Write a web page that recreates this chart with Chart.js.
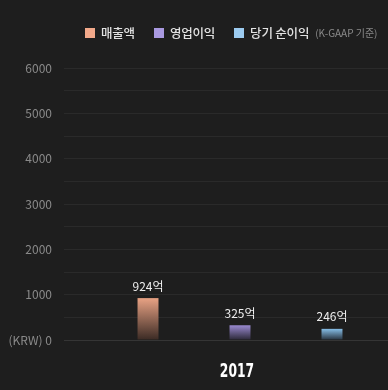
<!DOCTYPE html>
<html>
<head>
<meta charset="utf-8">
<script src="https://cdn.jsdelivr.net/npm/chart.js@4"></script>
<style>
  html, body { margin: 0; padding: 0; background: #1e1e1e; overflow: hidden; }
  #wrap { position: relative; width: 416px; height: 390px; }
  #legend {
    position: absolute; top: 23px; left: 85px; display: flex; align-items: center;
    font-family: "Noto Sans CJK KR", sans-serif; font-size: 12.5px; font-weight: 500;
    letter-spacing: -0.2px; color: #e2e2e2; white-space: nowrap;
  }
  #legend .item { display: flex; align-items: center; margin-right: 19px; }
  #legend .box { width: 10px; height: 10px; margin-right: 6px; }
  #legend .note { font-size: 10px; font-weight: 400; color: #8a8a8a; margin-left: -13px; letter-spacing: 0; }
</style>
</head>
<body>
<div id="wrap">
  <canvas id="chart" width="416" height="390"></canvas>
  <div id="legend"></div>
</div>
<script>
const years = ['2017'];
const seriesNames = ['매출액', '영업이익', '당기 순이익'];
const revenue = [924];
const operatingProfit = [325];
const netIncome = [246];
const yTickLabels = ['(KRW) 0', '1000', '2000', '3000', '4000', '5000', '6000'];
const legendNote = '(K-GAAP 기준)';
const valueSuffix = '억';

const topColors = ['#e8a284', '#9a8ad0', '#86bde6'];
const bottomColors = ['#3a2a24', '#2a2736', '#26313c'];
const legendColors = ['#f2a98a', '#a999e0', '#9ccbf0'];

// legend in html
const legendEl = document.getElementById('legend');
seriesNames.forEach((name, i) => {
  const item = document.createElement('div');
  item.className = 'item';
  item.innerHTML = `<span class="box" style="background:${legendColors[i]}"></span>${name}`;
  legendEl.appendChild(item);
});
const note = document.createElement('span');
note.className = 'note';
note.textContent = legendNote;
legendEl.appendChild(note);

const gradientFor = (i) => (c) => {
  const chart = c.chart;
  if (!chart.chartArea || !chart.scales.y) return topColors[i];
  const yScale = chart.scales.y;
  const top = yScale.getPixelForValue(c.raw);
  const bottom = yScale.getPixelForValue(0);
  const g = chart.ctx.createLinearGradient(0, top, 0, bottom);
  g.addColorStop(0, topColors[i]);
  g.addColorStop(1, bottomColors[i]);
  return g;
};

const valueLabels = {
  id: 'valueLabels',
  afterDatasetsDraw(chart) {
    const ctx = chart.ctx;
    ctx.save();
    ctx.font = '12px "Noto Sans CJK KR"';
    ctx.fillStyle = '#eeeeee';
    ctx.textAlign = 'center';
    ctx.textBaseline = 'bottom';
    chart.data.datasets.forEach((ds, i) => {
      chart.getDatasetMeta(i).data.forEach((bar, j) => {
        ctx.fillText(ds.data[j] + valueSuffix, bar.x, bar.y - 6);
      });
    });
    ctx.restore();
  }
};

// condensed year label under the bars
const yearLabel = {
  id: 'yearLabel',
  afterDraw(chart) {
    const ctx = chart.ctx;
    const x = chart.scales.x;
    ctx.save();
    ctx.font = 'bold 19px "DejaVu Sans Condensed"';
    ctx.fillStyle = '#ffffff';
    ctx.textAlign = 'center';
    ctx.textBaseline = 'middle';
    years.forEach((year, i) => {
      const px = x.getPixelForValue(i) - 3;
      ctx.save();
      ctx.translate(px, 372);
      ctx.scale(0.72, 1);
      ctx.fillText(year, 0, 0);
      ctx.restore();
    });
    ctx.restore();
  }
};

const datasets = [revenue, operatingProfit, netIncome].map((data, i) => ({
  label: seriesNames[i],
  data: data,
  backgroundColor: gradientFor(i),
  borderWidth: 0
}));

new Chart(document.getElementById('chart').getContext('2d'), {
  type: 'bar',
  data: { labels: years, datasets: datasets },
  plugins: [valueLabels, yearLabel],
  options: {
    responsive: false,
    animation: false,
    layout: { padding: { top: 68, right: 0, left: 0, bottom: 0 } },
    categoryPercentage: 0.784,
    barPercentage: 0.228,
    plugins: { legend: { display: false }, tooltip: { enabled: false } },
    scales: {
      x: {
        grid: { display: false },
        border: { display: false },
        ticks: { display: false },
        afterFit: (axis) => { axis.height = 50; }
      },
      y: {
        min: 0,
        max: 6000,
        border: { display: false },
        grid: { color: (c) => c.tick.value === 0 ? '#353535' : '#2a2a2a', drawTicks: false },
        ticks: {
          stepSize: 500,
          color: '#8a8a8a',
          padding: 12,
          font: { family: '"Noto Sans CJK KR"', size: 12 },
          callback: (v) => v % 1000 === 0 ? yTickLabels[v / 1000] : ''
        },
        afterFit: (axis) => { axis.width = 64; }
      }
    }
  }
});
</script>
</body>
</html>
